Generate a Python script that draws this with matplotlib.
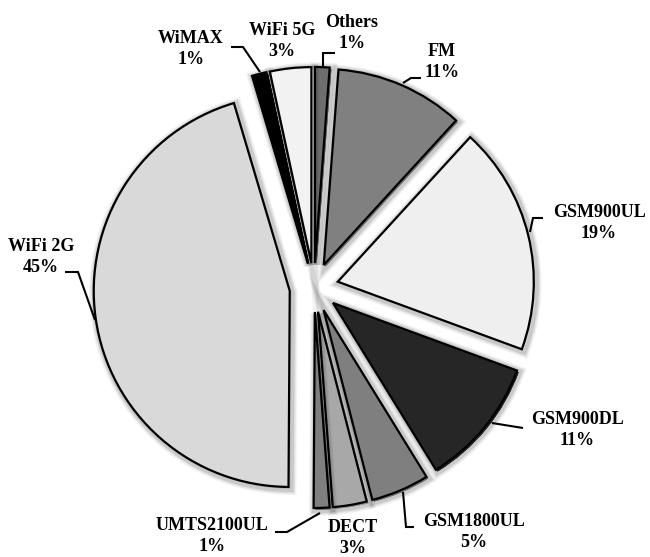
import matplotlib
matplotlib.use("Agg")
import matplotlib.pyplot as plt
import matplotlib.patheffects as pe

# ---- data ----
categories = ["Others", "FM", "GSM900UL", "GSM900DL", "GSM1800UL",
              "DECT", "UMTS2100UL", "WiFi 2G", "WiMAX", "WiFi 5G"]
shares = [1.2, 10.6, 18.8, 10.6, 4.8, 2.8, 1.3, 45.3, 1.2, 3.4]
colors = ["#6e6e6e", "#808080", "#efefef", "#262626", "#7f7f7f",
          "#a8a8a8", "#7f7f7f", "#d9d9d9", "#000000", "#f2f2f2"]

# ---- layout (pixel space of the 650x557 canvas) ----
W, H = 650, 557
CX, CY, R = 314, 287.5, 196
EXPLODE = 0.125

label_pos = {
    "Others": (352, 33), "FM": (442, 62), "GSM900UL": (599, 223),
    "GSM900DL": (577, 430), "GSM1800UL": (474, 532), "DECT": (353, 538),
    "UMTS2100UL": (212, 536), "WiFi 2G": (41, 257), "WiMAX": (191, 49),
    "WiFi 5G": (282, 41),
}
leaders = {
    "WiMAX": [(260, 72), (243, 47), (231, 47)],
    "Others": [(323, 66), (323, 53), (335, 53)],
    "FM": [(403, 83), (411, 78), (421, 78)],
    "GSM900UL": [(530, 232), (533, 218), (543, 218)],
    "GSM900DL": [(492, 423), (523, 428)],
    "GSM1800UL": [(403, 492), (406, 527), (414, 527)],
    "UMTS2100UL": [(320, 513), (287, 532), (275, 532)],
    "WiFi 2G": [(95, 320), (78, 272), (65, 272)],
}


def px(x, y):
    return ((x - CX) / R, (CY - y) / R)


fig = plt.figure(figsize=(6.5, 5.57), dpi=100)
ax = fig.add_axes([0, 0, 1, 1])

shadow = [
    pe.Stroke(linewidth=9, foreground=(0, 0, 0, 0.05), offset=(1.2, -1.2)),
    pe.Stroke(linewidth=7, foreground=(0, 0, 0, 0.07), offset=(1.2, -1.2)),
    pe.Stroke(linewidth=5, foreground=(0, 0, 0, 0.10), offset=(1.2, -1.2)),
    pe.Normal(),
]

wedges, _ = ax.pie(shares, colors=colors, startangle=90, counterclock=False,
                   explode=[EXPLODE] * len(shares), radius=1,
                   wedgeprops=dict(edgecolor="black", linewidth=1.6,
                                   joinstyle="miter"))
for w in wedges:
    w.set_path_effects(shadow)

ax.set_xlim(-CX / R, (W - CX) / R)
ax.set_ylim(-(H - CY) / R, CY / R)
ax.set_aspect("equal")
ax.axis("off")

for name, pts in leaders.items():
    xy = [px(*p) for p in pts]
    ax.plot([p[0] for p in xy], [p[1] for p in xy], color="black", lw=1.5,
            solid_joinstyle="miter", solid_capstyle="butt", zorder=5)

for name, val in zip(categories, shares):
    x, y = px(*label_pos[name])
    ax.text(x, y, f"{name}\n{round(val):d}%", ha="center", va="center",
            fontsize=13, fontweight="bold", family="Liberation Serif",
            linespacing=1.35, zorder=6)

fig.savefig("out.png", dpi=100)
